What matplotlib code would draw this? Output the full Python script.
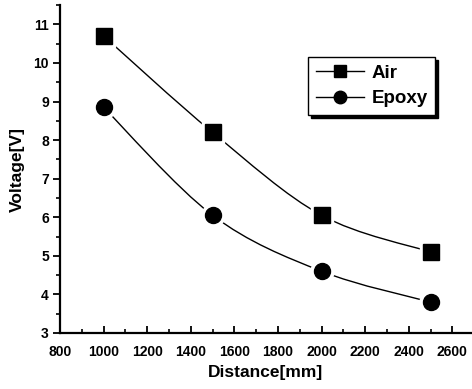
import matplotlib
matplotlib.use("Agg")
import matplotlib.pyplot as plt
from matplotlib.path import Path
from matplotlib.patches import PathPatch
from matplotlib.lines import Line2D
from matplotlib.ticker import MultipleLocator

plt.rcParams['font.family'] = ['Liberation Sans', 'DejaVu Sans']

distance = [1000, 1500, 2000, 2500]
air = [10.7, 8.2, 6.05, 5.1]
epoxy = [8.85, 6.05, 4.6, 3.8]


def smooth_path(xs, ys):
    # catmull-rom through the points, as cubic bezier segments
    pts = list(zip(xs, ys))
    verts = [pts[0]]
    codes = [Path.MOVETO]
    n = len(pts)
    for i in range(n - 1):
        p0 = pts[max(i - 1, 0)]
        p1 = pts[i]
        p2 = pts[i + 1]
        p3 = pts[min(i + 2, n - 1)]
        c1 = (p1[0] + (p2[0] - p0[0]) / 6, p1[1] + (p2[1] - p0[1]) / 6)
        c2 = (p2[0] - (p3[0] - p1[0]) / 6, p2[1] - (p3[1] - p1[1]) / 6)
        verts += [c1, c2, p2]
        codes += [Path.CURVE4] * 3
    return Path(verts, codes)


fig = plt.figure(figsize=(4.72, 3.89), dpi=100)
ax = fig.add_axes([0.127, 0.144, 0.873, 0.843])

for ys, marker, ms in [(air, 's', 11), (epoxy, 'o', 11.5)]:
    ax.add_patch(PathPatch(smooth_path(distance, ys), fill=False, lw=1.0, color='black'))
    ax.plot(distance, ys, ls='none', marker=marker, ms=ms + 5, color='white', zorder=3)
    ax.plot(distance, ys, ls='none', marker=marker, ms=ms, color='black', zorder=4)

ax.set_xlim(800, 2690)
ax.set_ylim(3, 11.5)
ax.xaxis.set_major_locator(MultipleLocator(200))
ax.xaxis.set_minor_locator(MultipleLocator(100))
ax.yaxis.set_major_locator(MultipleLocator(1))
ax.yaxis.set_minor_locator(MultipleLocator(0.5))

ax.spines['top'].set_visible(False)
ax.spines['right'].set_visible(False)
ax.spines['left'].set_linewidth(1.6)
ax.spines['bottom'].set_linewidth(1.6)

ax.tick_params(axis='x', which='major', direction='in', length=5, width=1.3, pad=9)
ax.tick_params(axis='x', which='minor', direction='in', length=3, width=1.2)
ax.tick_params(axis='y', which='major', direction='out', length=5, width=1.3, pad=3)
ax.tick_params(axis='y', which='minor', direction='out', length=3, width=1.2)
for lab in ax.get_xticklabels() + ax.get_yticklabels():
    lab.set_fontweight('bold')
    lab.set_fontsize(10)

ax.set_xlabel('Distance[mm]', fontsize=12.5, fontweight='bold', labelpad=4)
ax.set_ylabel('Voltage[V]', fontsize=12.5, fontweight='bold', labelpad=6)

handles = [
    Line2D([], [], color='black', lw=1, marker='s', ms=8),
    Line2D([], [], color='black', lw=1, marker='o', ms=9),
]
leg = ax.legend(handles, ['Air', 'Epoxy'], loc='upper left', bbox_to_anchor=(0.602, 0.841),
                prop={'weight': 'bold', 'size': 13.5}, frameon=True, fancybox=False,
                edgecolor='black', handlelength=2.6, handletextpad=0.4, borderpad=0.4,
                labelspacing=0.45, borderaxespad=0,
                shadow={'color': 'black', 'alpha': 1})
leg.get_frame().set_linewidth(1.0)

fig.savefig('out.png', dpi=100)
